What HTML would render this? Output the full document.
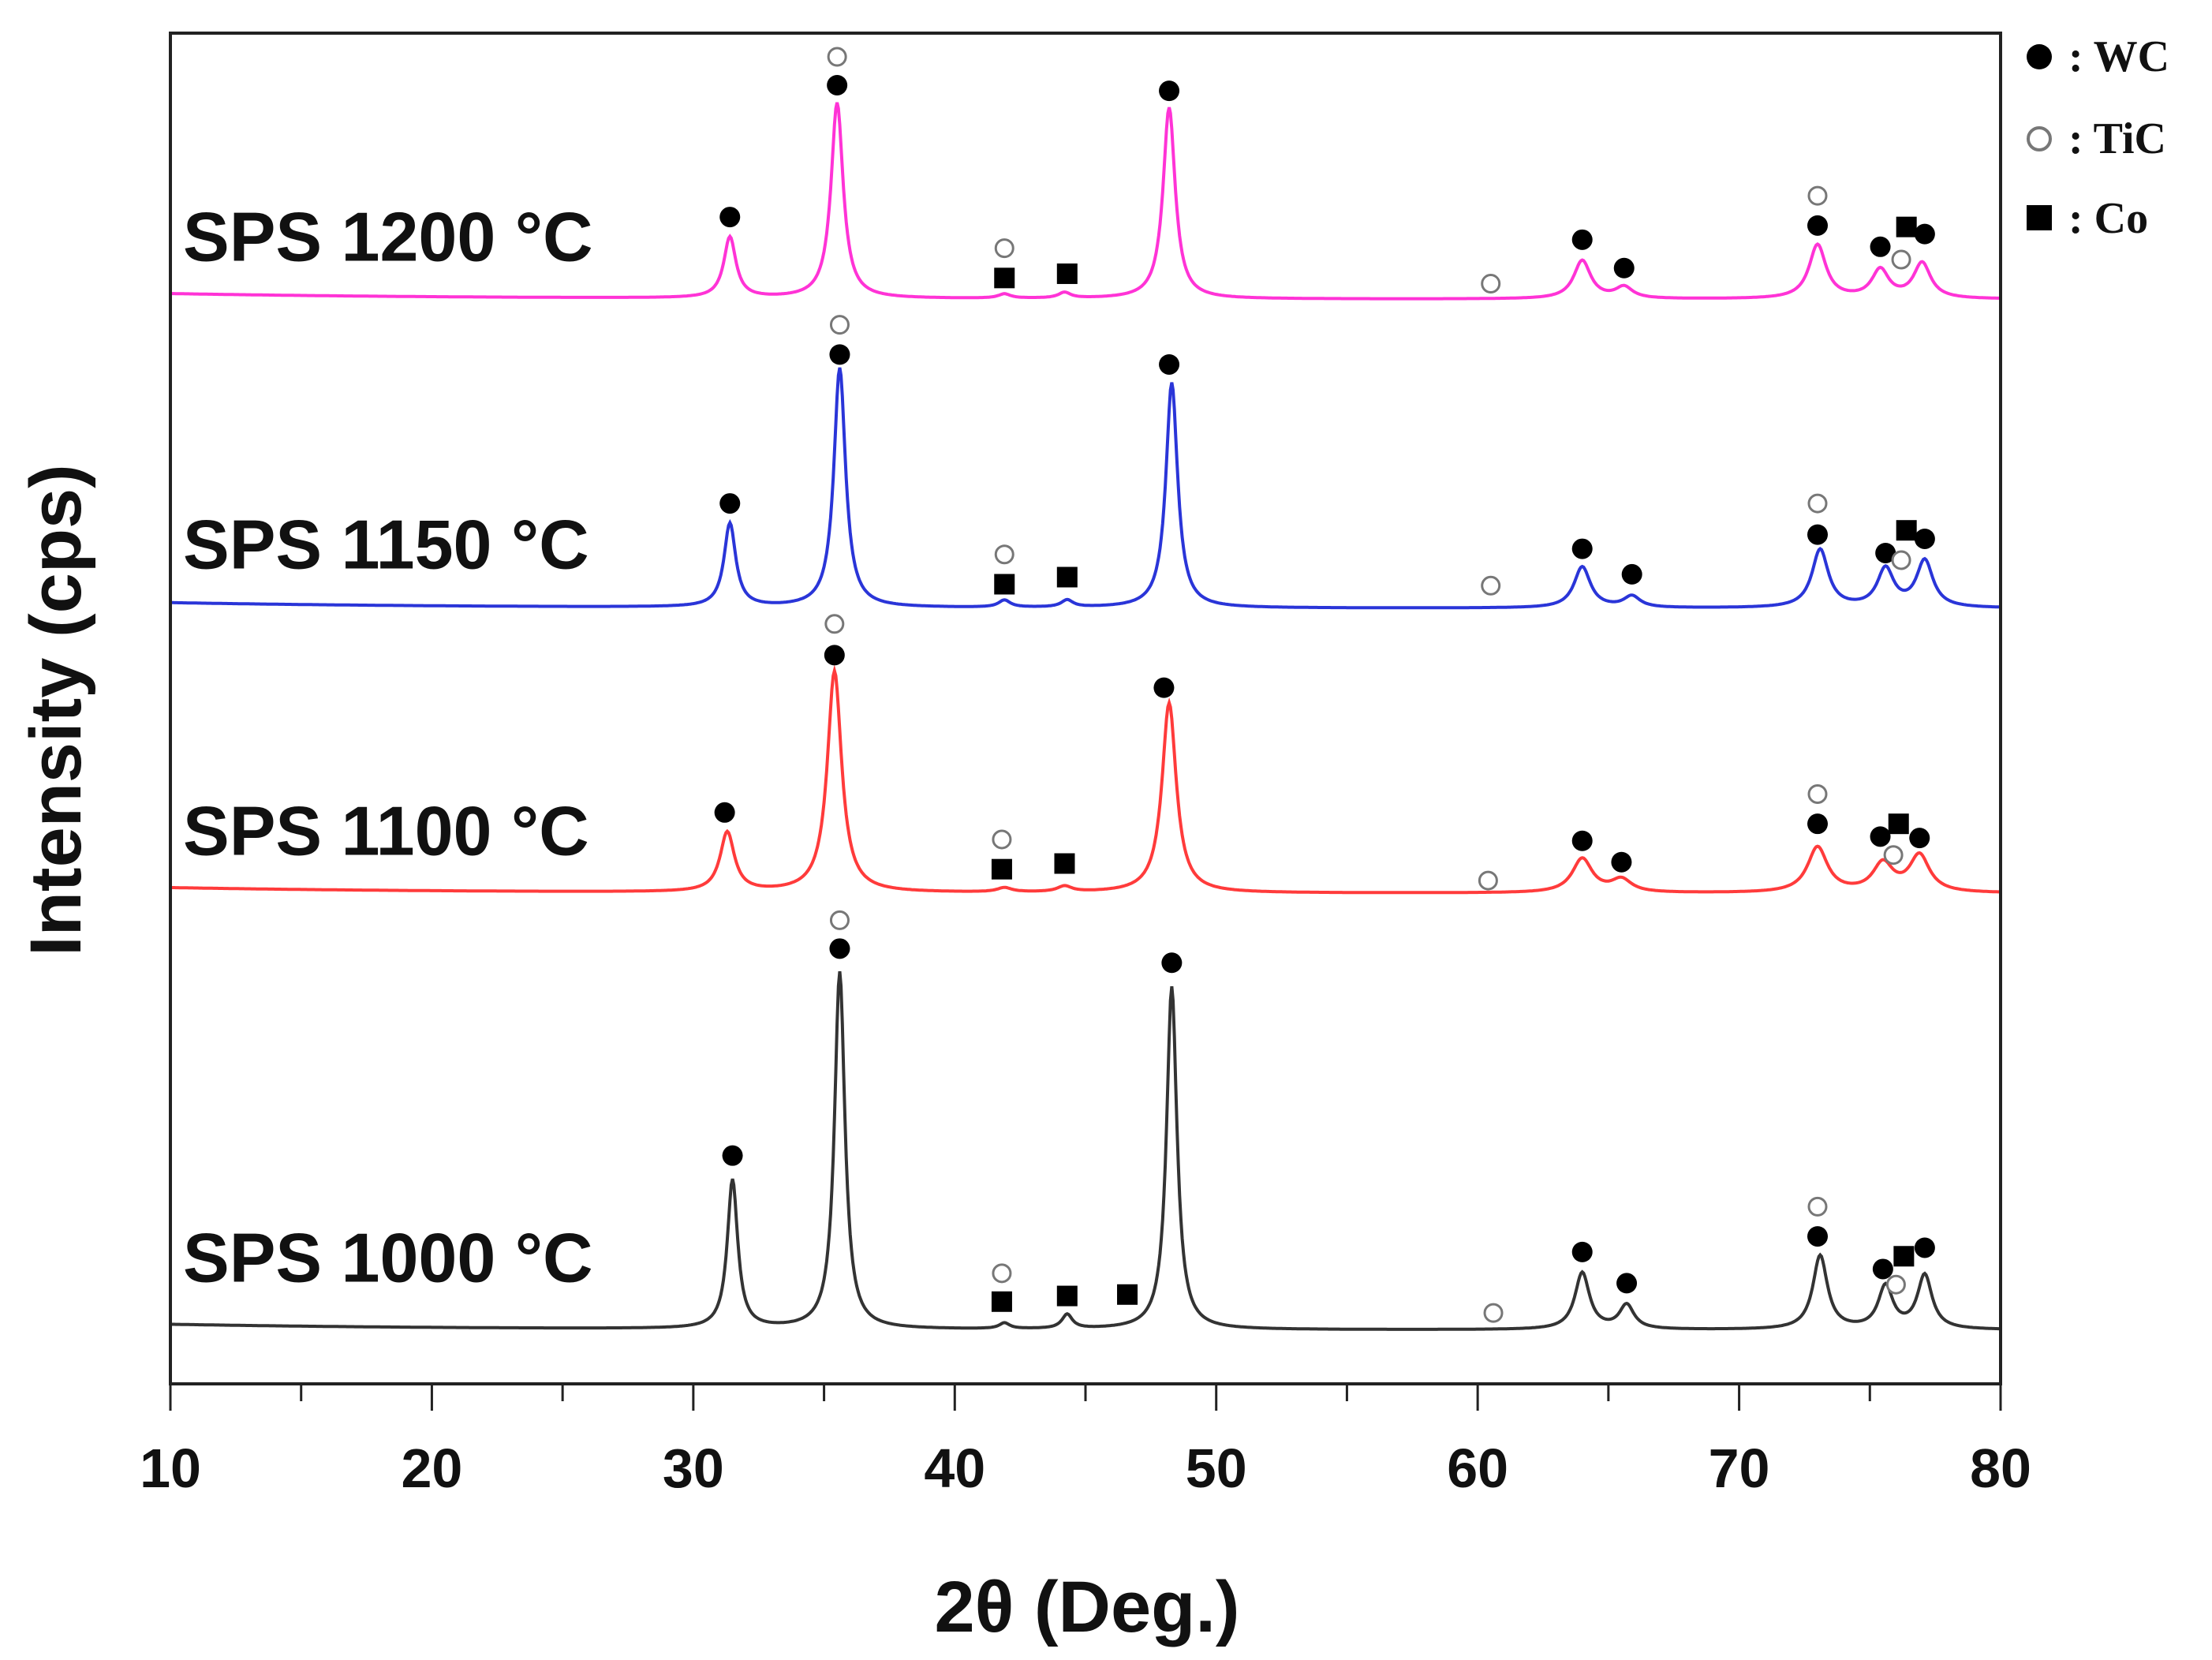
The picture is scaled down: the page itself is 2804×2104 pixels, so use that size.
<!DOCTYPE html>
<html><head><meta charset="utf-8">
<style>
html,body{margin:0;padding:0;background:#fff;}
svg{display:block;}
</style></head>
<body>
<svg id="chart" width="2804" height="2104" viewBox="0 0 2804 2104" xmlns="http://www.w3.org/2000/svg">
<g id="series-layer"></g>
<g id="marker-layer"></g>
<rect x="216" y="42" width="2320" height="1712" fill="none" stroke="#222" stroke-width="4"/>
<g id="axis-layer"></g>
<text x="1378" y="2068" text-anchor="middle" font-family="Liberation Sans, sans-serif" font-weight="bold" font-size="92" fill="#111">2θ (Deg.)</text>
<text transform="translate(102,900) rotate(-90)" text-anchor="middle" font-family="Liberation Sans, sans-serif" font-weight="bold" font-size="92" fill="#111">Intensity (cps)</text>
<g font-family="Liberation Serif, serif" font-weight="bold" font-size="56" fill="#111">
  <circle cx="2585" cy="72" r="16" fill="#000"/>
  <text x="2622" y="90">: WC</text>
  <circle cx="2585" cy="176" r="14" fill="none" stroke="#777" stroke-width="4"/>
  <text x="2622" y="194">: TiC</text>
  <rect x="2569" y="260" width="32" height="32" fill="#000"/>
  <text x="2622" y="295">: Co</text>
</g>
</svg>
<script>
// ---- data ----
const seriesNames = ["SPS 1000 °C","SPS 1100 °C","SPS 1150 °C","SPS 1200 °C"];
const seriesColors = ["#333333","#ff3b3b","#2a35d8","#ff33d6"];
const baselines = [38, 346, 547, 765];
const labelLevels = [90, 391, 593, 810];
const peakPos1000 = [31.5,35.6,41.9,44.3,48.3,64.0,65.7,73.1,75.6,77.1];
const peakH1000   = [105,252,4,10,242,40,17,52,30,38];
const peakPos1100 = [31.3,35.4,41.9,44.2,48.2,64.0,65.5,73.0,75.5,76.9];
const peakH1100   = [42,156,3,4,134,24,9,32,20,26];
const peakPos1150 = [31.4,35.6,41.9,44.3,48.3,64.0,65.9,73.1,75.6,77.1];
const peakH1150   = [59,169,5,5,159,29,8,41,27,33];
const peakPos1200 = [31.4,35.5,41.9,44.2,48.2,64.0,65.6,73.0,75.4,77.0];
const peakH1200   = [43,138,3,4,135,27,8,38,20,25];
const peakWidths  = [0.24,0.33,0.27,0.28];
const wcX   = [31.5,35.6,48.3,64.0,65.7,73.0,75.5,77.1, 31.2,35.4,48.0,64.0,65.5,73.0,75.4,76.9, 31.4,35.6,48.2,64.0,65.9,73.0,75.6,77.1, 31.4,35.5,48.2,64.0,65.6,73.0,75.4,77.1];
const wcV   = [161,307,297,93,71,104,81,96, 403,514,491,383,368,395,386,385, 621,726,719,589,571,599,586,596, 823,916,912,807,787,817,802,811];
const ticX  = [35.6,41.8,60.6,73.0,76.0, 35.4,41.8,60.4,73.0,75.9, 35.6,41.9,60.5,73.0,76.2, 35.5,41.9,60.5,73.0,76.2];
const ticV  = [327,78,50,125,70, 536,384,355,416,373, 747,585,563,621,581, 936,801,776,838,793];
const coX   = [41.8,44.3,46.6,76.3, 41.8,44.2,76.1, 41.9,44.3,76.4, 41.9,44.3,76.4];
const coV   = [58,62,63,90, 363,367,395, 564,569,602, 780,783,816];
const xTicks = [10,20,30,40,50,60,70,80];
const xMinorTicks = [15,25,35,45,55,65,75];

// ---- axes ----
const X0=216, X1=2536, Y0=1754, K=1.797;
function xs(v){return X0+(v-10)/70*(X1-X0);}
function ys(v){return Y0-v*K;}
const NS="http://www.w3.org/2000/svg";
function mk(tag,attrs,parent){const e=document.createElementNS(NS,tag);for(const k in attrs)e.setAttribute(k,attrs[k]);parent.appendChild(e);return e;}

const sl=document.getElementById('series-layer');
const pos=[peakPos1000,peakPos1100,peakPos1150,peakPos1200];
const hts=[peakH1000,peakH1100,peakH1150,peakH1200];
for(let s=0;s<4;s++){
  let d="";
  for(let i=0;i<=1400;i++){
    const t=10+70*i/1400;
    let v=baselines[s]+4*Math.exp(-(t-10)/12);
    for(let p=0;p<pos[s].length;p++){
      const w=peakWidths[s]*(pos[s][p]>60?1.4:1);
      const dx=(t-pos[s][p])/w;
      v+=hts[s][p]/(1+dx*dx);
    }
    d+=(i?"L":"M")+xs(t).toFixed(1)+" "+ys(v).toFixed(1);
  }
  const path=mk('path',{d:d,fill:'none',stroke:seriesColors[s],'stroke-width':4},sl);
  
  
  const lab=mk('text',{x:232,y:ys(labelLevels[s])+32,'font-family':'Liberation Sans, sans-serif','font-weight':'bold','font-size':88,fill:'#111'},sl);
  lab.textContent=seriesNames[s];
  
  
}

const ml=document.getElementById('marker-layer');
for(let i=0;i<wcX.length;i++){
  const c=mk('circle',{cx:xs(wcX[i]),cy:ys(wcV[i]),r:13,fill:'#000'},ml);
  
  
}
for(let i=0;i<ticX.length;i++){
  const c=mk('circle',{cx:xs(ticX[i]),cy:ys(ticV[i]),r:11,fill:'#fff',stroke:'#777','stroke-width':3},ml);
  
  
}
for(let i=0;i<coX.length;i++){
  const r=mk('rect',{x:xs(coX[i])-13,y:ys(coV[i])-13,width:26,height:26,fill:'#000'},ml);
  
  
}

const al=document.getElementById('axis-layer');
xTicks.forEach(t=>{
  const l=mk('line',{x1:xs(t),x2:xs(t),y1:Y0,y2:Y0+34,stroke:'#222','stroke-width':3},al);
  
  
  const tx=mk('text',{x:xs(t),y:1885,'text-anchor':'middle','font-family':'Liberation Sans, sans-serif','font-weight':'bold','font-size':70,fill:'#111'},al);
  tx.textContent=t;
  
  
});
xMinorTicks.forEach(t=>{
  const l=mk('line',{x1:xs(t),x2:xs(t),y1:Y0,y2:Y0+22,stroke:'#222','stroke-width':3},al);
  
  
});
</script>
</body></html>
